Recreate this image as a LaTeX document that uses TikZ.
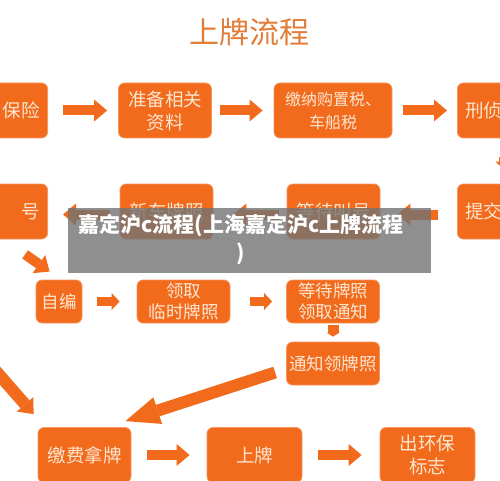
\documentclass[tikz,border=0pt]{standalone}
\usepackage{fontspec}
\setmainfont{Noto Sans CJK SC}
\usetikzlibrary{arrows.meta,calc}
\definecolor{plateorange}{HTML}{F26A1B}
\definecolor{platetext}{HTML}{FCE6D2}
\definecolor{titleorange}{HTML}{E27C38}
\definecolor{bannergrey}{HTML}{737373}
\tikzset{
    stepbox/.style={rounded corners=6pt, fill=plateorange, draw=plateorange!70!white, line width=0.8pt,
        text=platetext, align=center, inner sep=0pt, minimum width=93pt, minimum height=55pt,
        font=\fontsize{18.5}{23}\selectfont},
    lowbox/.style={stepbox, minimum height=43pt, font=\fontsize{17.5}{21}\selectfont},
    cutleft/.style={anchor=east, minimum width=53pt, text width=37pt, align=right},
    cutright/.style={anchor=west, text width=77pt, align=left},
    flow/.style={draw=plateorange, line width=10pt, -{Triangle[width=22pt,length=13pt,line width=0pt]}},
    thinflow/.style={draw=plateorange, line width=9pt, -{Triangle[width=17pt,length=8pt,line width=0pt]}},
    bigflow/.style={draw=plateorange, line width=12pt, -{Triangle[width=28pt,length=34pt,line width=0pt]}},
    captiontext/.style={text=white, inner sep=0pt, align=center, font=\bfseries\fontsize{21}{28}\selectfont}
}
\begin{document}
\begin{tikzpicture}[x=1pt,y=-1pt]
\useasboundingbox (0,0) rectangle (500,481);
\clip (0,0) rectangle (500,481);

\node[font=\fontsize{30}{30}\selectfont, text=titleorange] (title) at (249,32) {上牌流程};

\node[stepbox, cutleft] (insure) at (48,110.5) {保险};
\node[stepbox] (docs) at (165,110.5) {准备相关\\资料};
\node[stepbox, minimum width=118pt, font=\fontsize{16}{23}\selectfont] (tax) at (333,110.5) {缴纳购置税、\\车船税};
\node[stepbox, cutright] (check) at (457,110.5) {刑侦};

\node[stepbox, cutright] (submit) at (457,211.5) {提交};
\node[stepbox] (queue) at (333.5,211.5) {等待叫号};
\node[stepbox] (newplate) at (166.5,211.5) {新车牌照};
\node[stepbox, cutleft] (number) at (48,211.5) {号};

\node[lowbox, minimum width=46pt] (self) at (59,301.5) {自编};
\node[lowbox] (temp) at (183.5,301.5) {领取\\临时牌照};
\node[lowbox] (wait) at (333,301.5) {等待牌照\\领取通知};
\node[lowbox] (notice) at (333,363.5) {通知领牌照};

\node[stepbox] (pay) at (84.5,455) {缴费拿牌};
\node[stepbox, minimum width=95pt] (mount) at (254.5,455) {上牌};
\node[stepbox, minimum width=95pt] (eco) at (427.5,455) {出环保\\标志};

\draw[flow, shorten <=15pt, shorten >=11pt] (insure) -- (docs);
\draw[flow, shorten <=8pt, shorten >=11pt] (docs) -- (tax);
\draw[flow, shorten <=11pt, shorten >=10pt] (tax) -- (check);
\draw[thinflow, shorten <=19pt, shorten >=14pt] (check) -- (submit);
\draw[flow, shorten <=19pt, shorten >=17pt] ([yshift=-3pt]submit.west) -- ([yshift=-3pt]queue.east);
\draw[flow, shorten <=8pt, shorten >=20pt] ([yshift=-3pt]queue.west) -- ([yshift=-3pt]newplate.east);
\draw[flow, shorten <=10pt, shorten >=15pt] ([yshift=-3pt]newplate.west) -- ([yshift=-3pt]number.east);
\draw[flow] ($(number.south)+(4,15)$) -- ($(self.north west)+(14,-8)$);
\draw[thinflow, shorten <=15pt, shorten >=17pt] (self) -- (temp);
\draw[thinflow, shorten <=20pt, shorten >=14pt] (temp) -- (wait);
\draw[draw=plateorange, line width=11pt, -{Triangle[width=13pt,length=4pt,line width=0pt]}, shorten <=2pt, shorten >=5pt] (wait) -- (notice);
\draw[bigflow] ($(notice.west)+(-11,9)$) -- ($(pay.north east)+(-6,-6)$);
\coordinate (offleft) at (-12,362);
\draw[flow, line width=12pt] (offleft) -- ($(pay.north west)+(-4,-13)$);
\draw[flow, shorten <=16pt, shorten >=17pt] (pay) -- (mount);
\draw[flow, shorten <=16pt, shorten >=18pt] (mount) -- (eco);

\fill[bannergrey, opacity=0.8] (68,208) rectangle (431,273);
\node[captiontext] (caption) at (241,239.5) {嘉定沪c流程(上海嘉定沪c上牌流程\\)};
\end{tikzpicture}
\end{document}
